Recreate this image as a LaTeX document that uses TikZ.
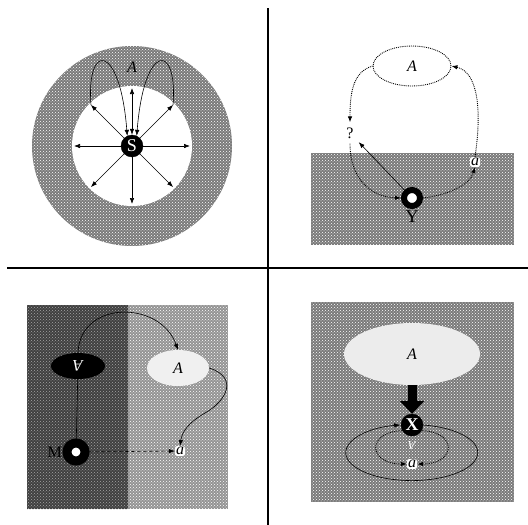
\documentclass[tikz,border=0pt]{standalone}
\usepackage{fontspec}
\setmainfont{Liberation Serif}
\usetikzlibrary{arrows.meta,positioning,patterns,calc,shapes.geometric}

\begin{document}
\begin{tikzpicture}[x=1pt,y=1pt, every node/.style={font=\fontsize{16}{16}\selectfont},
  mesh/.style={fill=black!52,postaction={pattern=crosshatch dots,pattern color=white}},
  meshlight/.style={fill=black!42,postaction={pattern=crosshatch dots,pattern color=white}},
  meshdark/.style={fill=black!75,postaction={pattern=crosshatch dots,pattern color=gray!70}},
  ring/.style={draw=black,circle,fill=white,inner sep=0pt},
  blob/.style={draw=black,circle,fill=black,text=white,inner sep=0pt,minimum size=22pt},
  tag/.style={fill=white,inner sep=1pt,rounded corners=2pt},
  tip/.style={-{Latex[length=6pt,width=4.5pt]}},
  dots/.style={densely dotted,line width=0.9pt}]
\useasboundingbox (0,0) rectangle (528,-525);

% dividers
\draw[line width=2.5pt] (268,-8) -- (268,-525);
\draw[line width=2.5pt] (7,-268) -- (528,-268);

% top left: S
\fill[mesh] (132,-146) circle[radius=100];
\fill[white] (132,-146) circle[radius=60];
\node[blob,font=\fontsize{18}{18}\selectfont] (S) at (132,-146) {S};
\foreach \a in {0,45,135,180,225,270,315}
  \draw[semithick,tip] (S) -- ++(\a:58);
\draw[semithick,{Latex[length=6pt,width=4.5pt]}-{Latex[length=6pt,width=4.5pt]}] (S) -- ++(90:58);
\coordinate (ul) at ($(S)+(135:58)$);
\coordinate (ur) at ($(S)+(45:58)$);
\draw[semithick,tip] (ul) .. controls (86,-42) and (120,-42) .. (S.115);
\draw[semithick,tip] (ur) .. controls (178,-42) and (144,-42) .. (S.65);
\node (A1) at (132,-67) {\textit{A}};

% top right: Y
\fill[mesh] (311,-153) rectangle (514,-245);
\node[draw,dots,ellipse,minimum width=78pt,minimum height=40pt] (A2) at (412,-66) {\textit{A}};
\node[ring,minimum size=16pt,line width=6pt] (Y) at (412,-198) {};
\node[below=-2pt of Y,font=\fontsize{18}{18}\selectfont] (Ylab) {Y};
\node[inner sep=5pt] (q) at (350,-133) {?};
\node[tag] (a2) at (475,-162) {\textit{a}};
\draw[dots,tip] (A2.west) .. controls (352,-72) and (350,-95) .. (q.north);
\draw[dots,tip] (q.south) .. controls (350,-180) and (372,-197) .. (Y.west);
\draw[dots,tip] (Y.east) .. controls (448,-195) and (470,-185) .. (a2.south);
\draw[dots,tip] (a2.north) .. controls (482,-110) and (478,-72) .. (A2.east);
\draw[semithick,tip] (Y) -- (q);

% bottom left: M
\fill[meshdark] (27,-305) rectangle (128,-509);
\fill[meshlight] (128,-305) rectangle (228,-509);
\node[ellipse,fill=black,minimum width=54pt,minimum height=26pt,text=white] (Aall) at (78,-366) {\rotatebox{180}{\textit{A}}};
\node[ellipse,fill=gray!12,minimum width=62pt,minimum height=36pt] (A3) at (178,-368) {\textit{A}};
\node[ring,minimum size=18pt,line width=9pt] (M) at (76,-452) {};
\node[left=-3pt of M] (Mlab) {M};
\node[tag] (a3) at (180,-451) {\textit{a}};
\draw[semithick] (Aall) -- (M);
\draw[semithick,tip] (Aall.north) .. controls (80,-300) and (160,-300) .. (A3.north);
\draw[semithick,tip] (A3.east) .. controls (240,-378) and (225,-402) .. (205,-413)
  .. controls (188,-423) and (182,-432) .. (a3.north);
\draw[semithick,dashed,tip] (M) -- (a3);

% bottom right: X
\fill[mesh] (311,-302) rectangle (514,-502);
\node[ellipse,fill=gray!15,minimum width=136pt,minimum height=62pt] (A4) at (412,-354) {\textit{A}};
\node[blob,font=\fontsize{18}{18}\selectfont\bfseries] (X) at (412,-425) {X};
\draw[line width=9pt,-{Triangle[width=24pt,length=13pt]}] (A4) -- (X);
\draw[semithick,tip] (X.east) arc[start angle=80,end angle=-260,x radius=66,y radius=28];
\node[text=white,font=\fontsize{12}{12}\selectfont] (Xall) at (412,-445) {\rotatebox{180}{\textit{A}}};
\node[tag] (a4) at (412,-464) {\textit{a}};
\draw[dots,tip] (X.-30) .. controls (458,-432) and (456,-464) .. (a4.east);
\draw[dots,tip] (X.210) .. controls (366,-432) and (368,-464) .. (a4.west);
\end{tikzpicture}
\end{document}
